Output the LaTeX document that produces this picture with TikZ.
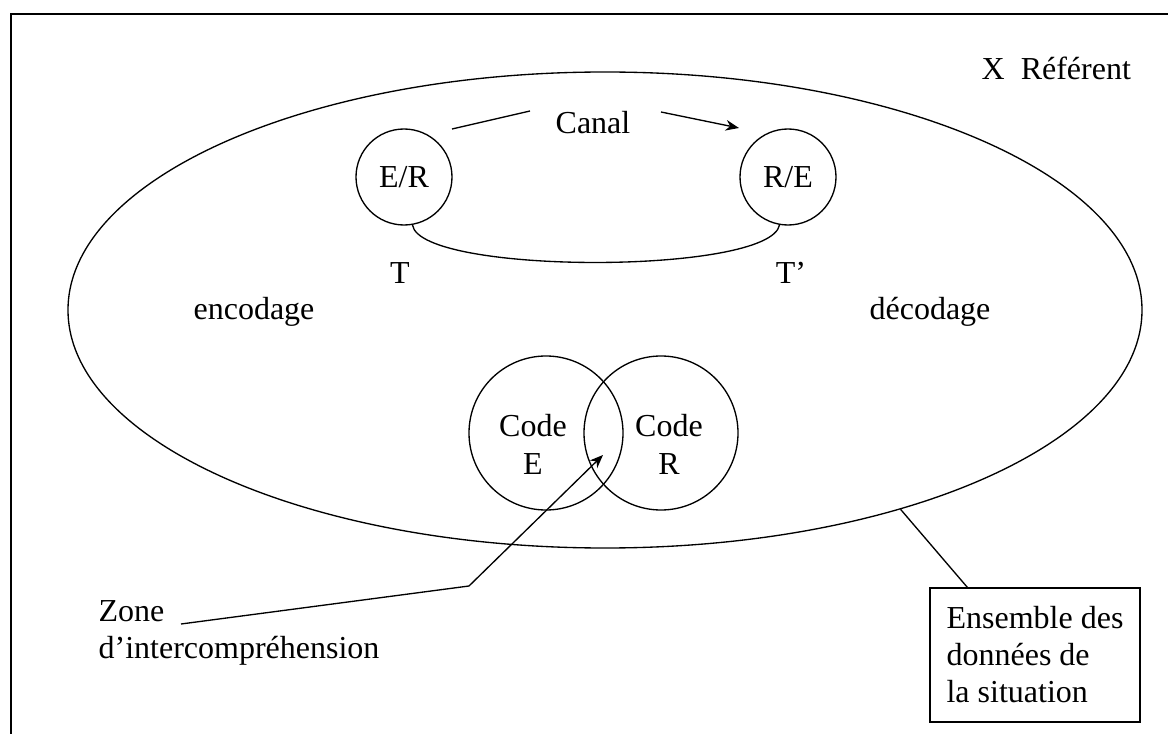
\documentclass[tikz,border=0pt]{standalone}
\usepackage{fontspec}
\setmainfont{Liberation Serif}
\usetikzlibrary{shapes.geometric,arrows.meta}
\begin{document}
\begin{tikzpicture}[x=0.75pt,y=-0.75pt,
  line width=1pt,
  lbl/.style={inner sep=0pt, font=\fontsize{24}{28.5}\selectfont},
  ring/.style={circle, draw, inner sep=0pt, font=\fontsize{24}{28.5}\selectfont},
  arr/.style={-{Stealth[length=10pt,width=8pt]}},
]
\useasboundingbox (0,0) rectangle (1168,734);
\draw[line width=1.3pt] (11,734) -- (11,14) -- (1168,14);
% big ellipse
\node[ellipse, draw, minimum width=805.5pt, minimum height=357pt, inner sep=0pt] (ens) at (605,310) {};
% E/R and R/E
\node[ring, minimum size=72pt] (er) at (404,177) {E/R};
\node[ring, minimum size=72pt] (re) at (788,177) {R/E};
\draw (er.-80) .. controls (420,275) and (770,275) .. (re.-100);
\node[lbl] (canal) at (593,123) {Canal};
\coordinate (c1) at (452,129);
\coordinate (c2) at (530,111);
\coordinate (c3) at (661,112);
\coordinate (c4) at (739,128);
\draw (c1) -- (c2);
\draw[arr] (c3) -- (c4);
\node[lbl] (t) at (400,273) {T};
\node[lbl] (tp) at (791,273) {T’};
\node[lbl] (enc) at (254,312) {encodage};
\node[lbl] (dec) at (930,312) {décodage};
\node[lbl, anchor=west] (ref) at (981,68) {X\ \ Référent};
% code circles
\node[ring, minimum size=115.5pt] (ce) at (546,433) {};
\node[ring, minimum size=115.5pt] (cr) at (661,433) {};
\node[lbl, align=center] (cet) at (533,444) {Code\\E};
\node[lbl, align=center] (crt) at (669,444) {Code\\R};
% zone
\node[lbl, align=left, anchor=west, font=\fontsize{24}{27.75}\selectfont] (zone) at (98,633) {Zone\\d’intercompréhension};
\coordinate (z0) at (181,624);
\coordinate (z1) at (469,586);
\coordinate (z2) at (603,455);
\draw[arr] (z0) -- (z1) -- (z2);
% ensemble box
\node[draw, align=left, minimum width=157.5pt, minimum height=100.5pt, inner sep=0pt, font=\fontsize{24}{27.75}\selectfont] (box) at (1035,655) {Ensemble des\\données de\\la situation};
\draw ([xshift=28.5pt]box.north west) -- (ens.-34.9);
\end{tikzpicture}
\end{document}
